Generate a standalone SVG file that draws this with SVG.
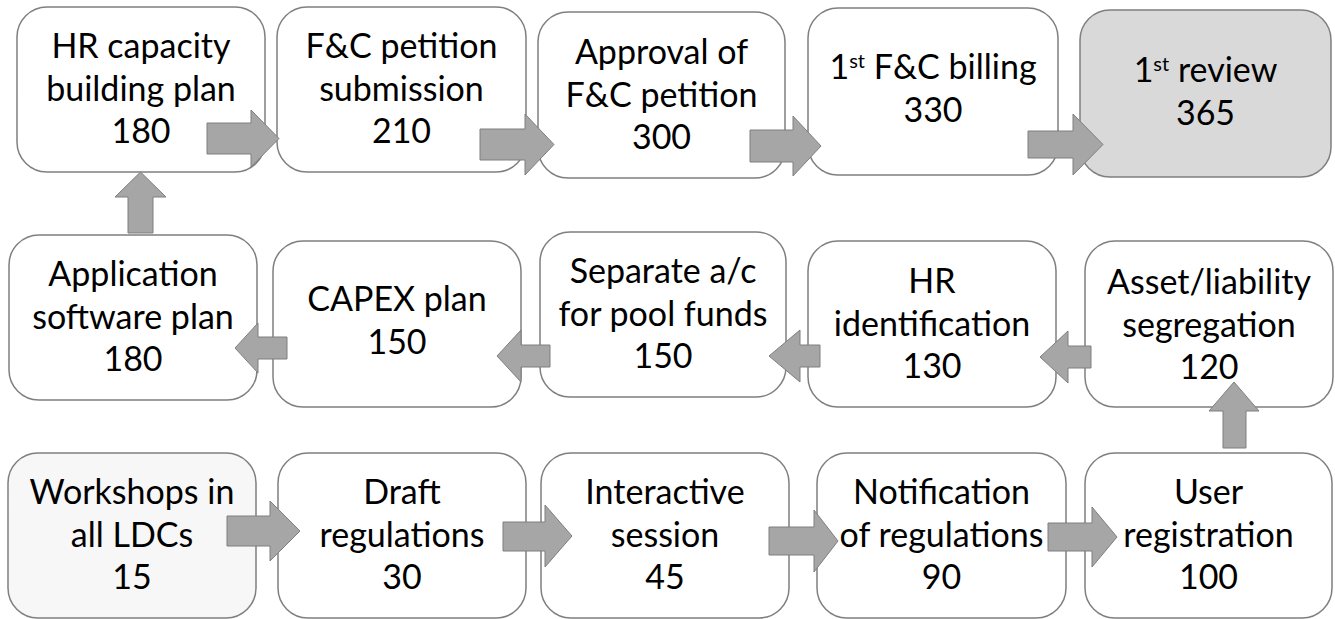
<svg xmlns="http://www.w3.org/2000/svg" width="1335" height="619" viewBox="0 0 1335 619">
  <style>
    .box { fill: #ffffff; stroke: #7f7f7f; stroke-width: 1.5; }
    .box.review { fill: #d9d9d9; }
    .box.start { fill: #f7f7f7; }
    .lbl { font-family: Lato, "Liberation Sans", sans-serif; font-size: 34px; fill: #000000; text-anchor: middle; }
    .sup { font-size: 20px; }
    .arrow { fill: #a6a6a6; stroke: #7f7f7f; stroke-width: 1; }
  </style>

  <!-- Row 1 -->
  <g id="hr-capacity">
    <rect class="box" x="17" y="7" width="248" height="165" rx="30"/>
    <text class="lbl" x="141" y="58">HR capacity</text>
    <text class="lbl" x="141" y="101">building plan</text>
    <text class="lbl" x="141" y="143">180</text>
  </g>
  <g id="fc-petition-submission">
    <rect class="box" x="277" y="7" width="249" height="165" rx="30"/>
    <text class="lbl" x="401.5" y="58">F&amp;C petition</text>
    <text class="lbl" x="401.5" y="101">submission</text>
    <text class="lbl" x="401.5" y="143">210</text>
  </g>
  <g id="fc-petition-approval">
    <rect class="box" x="538" y="12" width="247" height="166" rx="30"/>
    <text class="lbl" x="661.5" y="63.5">Approval of</text>
    <text class="lbl" x="661.5" y="106.5">F&amp;C petition</text>
    <text class="lbl" x="661.5" y="148.5">300</text>
  </g>
  <g id="first-billing">
    <rect class="box" x="808" y="8" width="250" height="167" rx="30"/>
    <text class="lbl" x="933" y="79">1<tspan class="sup" dy="-11">st</tspan><tspan dy="11"> F&amp;C billing</tspan></text>
    <text class="lbl" x="933" y="122">330</text>
  </g>
  <g id="first-review">
    <rect class="box review" x="1080" y="10" width="251" height="167" rx="30"/>
    <text class="lbl" x="1205.5" y="82">1<tspan class="sup" dy="-11">st</tspan><tspan dy="11"> review</tspan></text>
    <text class="lbl" x="1205.5" y="125">365</text>
  </g>

  <!-- Row 2 -->
  <g id="app-software-plan">
    <rect class="box" x="9" y="235" width="248" height="165" rx="30"/>
    <text class="lbl" x="133" y="286">Application</text>
    <text class="lbl" x="133" y="329">software plan</text>
    <text class="lbl" x="133" y="371">180</text>
  </g>
  <g id="capex-plan">
    <rect class="box" x="273" y="241" width="248" height="166" rx="30"/>
    <text class="lbl" x="397" y="311">CAPEX plan</text>
    <text class="lbl" x="397" y="354">150</text>
  </g>
  <g id="pool-funds-account">
    <rect class="box" x="540" y="232" width="246" height="165" rx="30"/>
    <text class="lbl" x="663" y="283">Separate a/c</text>
    <text class="lbl" x="663" y="326">for pool funds</text>
    <text class="lbl" x="663" y="368">150</text>
  </g>
  <g id="hr-identification">
    <rect class="box" x="808" y="241" width="248" height="166" rx="30"/>
    <text class="lbl" x="932" y="293">HR</text>
    <text class="lbl" x="932" y="336">identification</text>
    <text class="lbl" x="932" y="378">130</text>
  </g>
  <g id="asset-segregation">
    <rect class="box" x="1085" y="241" width="248" height="166" rx="30"/>
    <text class="lbl" x="1209" y="294">Asset/liability</text>
    <text class="lbl" x="1209" y="337">segregation</text>
    <text class="lbl" x="1209" y="379">120</text>
  </g>

  <!-- Row 3 -->
  <g id="workshops">
    <rect class="box start" x="8" y="453" width="248" height="165" rx="30"/>
    <text class="lbl" x="132" y="504">Workshops in</text>
    <text class="lbl" x="132" y="547">all LDCs</text>
    <text class="lbl" x="132" y="589">15</text>
  </g>
  <g id="draft-regulations">
    <rect class="box" x="278" y="453" width="248" height="165" rx="30"/>
    <text class="lbl" x="402" y="504">Draft</text>
    <text class="lbl" x="402" y="547">regulations</text>
    <text class="lbl" x="402" y="589">30</text>
  </g>
  <g id="interactive-session">
    <rect class="box" x="541" y="453" width="248" height="165" rx="30"/>
    <text class="lbl" x="665" y="504">Interactive</text>
    <text class="lbl" x="665" y="547">session</text>
    <text class="lbl" x="665" y="589">45</text>
  </g>
  <g id="notification">
    <rect class="box" x="817" y="453" width="249" height="165" rx="30"/>
    <text class="lbl" x="941.5" y="504">Notification</text>
    <text class="lbl" x="941.5" y="547">of regulations</text>
    <text class="lbl" x="941.5" y="589">90</text>
  </g>
  <g id="user-registration">
    <rect class="box" x="1085" y="453" width="247" height="165" rx="30"/>
    <text class="lbl" x="1208.5" y="504">User</text>
    <text class="lbl" x="1208.5" y="547">registration</text>
    <text class="lbl" x="1208.5" y="589">100</text>
  </g>

  <!-- Block arrows between steps -->
  <g id="connectors">
    <!-- row 3, left to right -->
    <polygon class="arrow" points="227,516 270,516 270,501 300,531 270,561 270,546 227,546"/>
    <polygon class="arrow" points="503,522 545,522 545,505 572,536 545,567 545,551 503,551"/>
    <polygon class="arrow" points="769,527 814,527 814,510 838,541 814,572 814,555 769,555"/>
    <polygon class="arrow" points="1048,523 1092,523 1092,507 1117,537 1092,567 1092,551 1048,551"/>
    <!-- up from user registration -->
    <polygon class="arrow" points="1223,448 1223,411 1209,411 1234,382 1259,411 1246,411 1246,448"/>
    <!-- row 2, right to left -->
    <polygon class="arrow" points="1091,346 1068,346 1068,331 1040,357 1068,383 1068,368 1091,368"/>
    <polygon class="arrow" points="820,345 800,345 800,330 769,356 800,382 800,367 820,367"/>
    <polygon class="arrow" points="550,345 521,345 521,330 497,356 521,382 521,367 550,367"/>
    <polygon class="arrow" points="287,337 258,337 258,323 235,348 258,373 258,359 287,359"/>
    <!-- up from application software plan -->
    <polygon class="arrow" points="128,233 128,197 115,197 140.5,172 166,197 153,197 153,233"/>
    <!-- row 1, left to right -->
    <polygon class="arrow" points="207,123 251,123 251,110 279,138.5 251,167 251,154 207,154"/>
    <polygon class="arrow" points="480,129 525,129 525,114 554,144.5 525,175 525,160 480,160"/>
    <polygon class="arrow" points="750,130 793,130 793,116 821,146 793,176 793,162 750,162"/>
    <polygon class="arrow" points="1028,131 1073,131 1073,114 1103,144.5 1073,175 1073,158 1028,158"/>
  </g>
</svg>
